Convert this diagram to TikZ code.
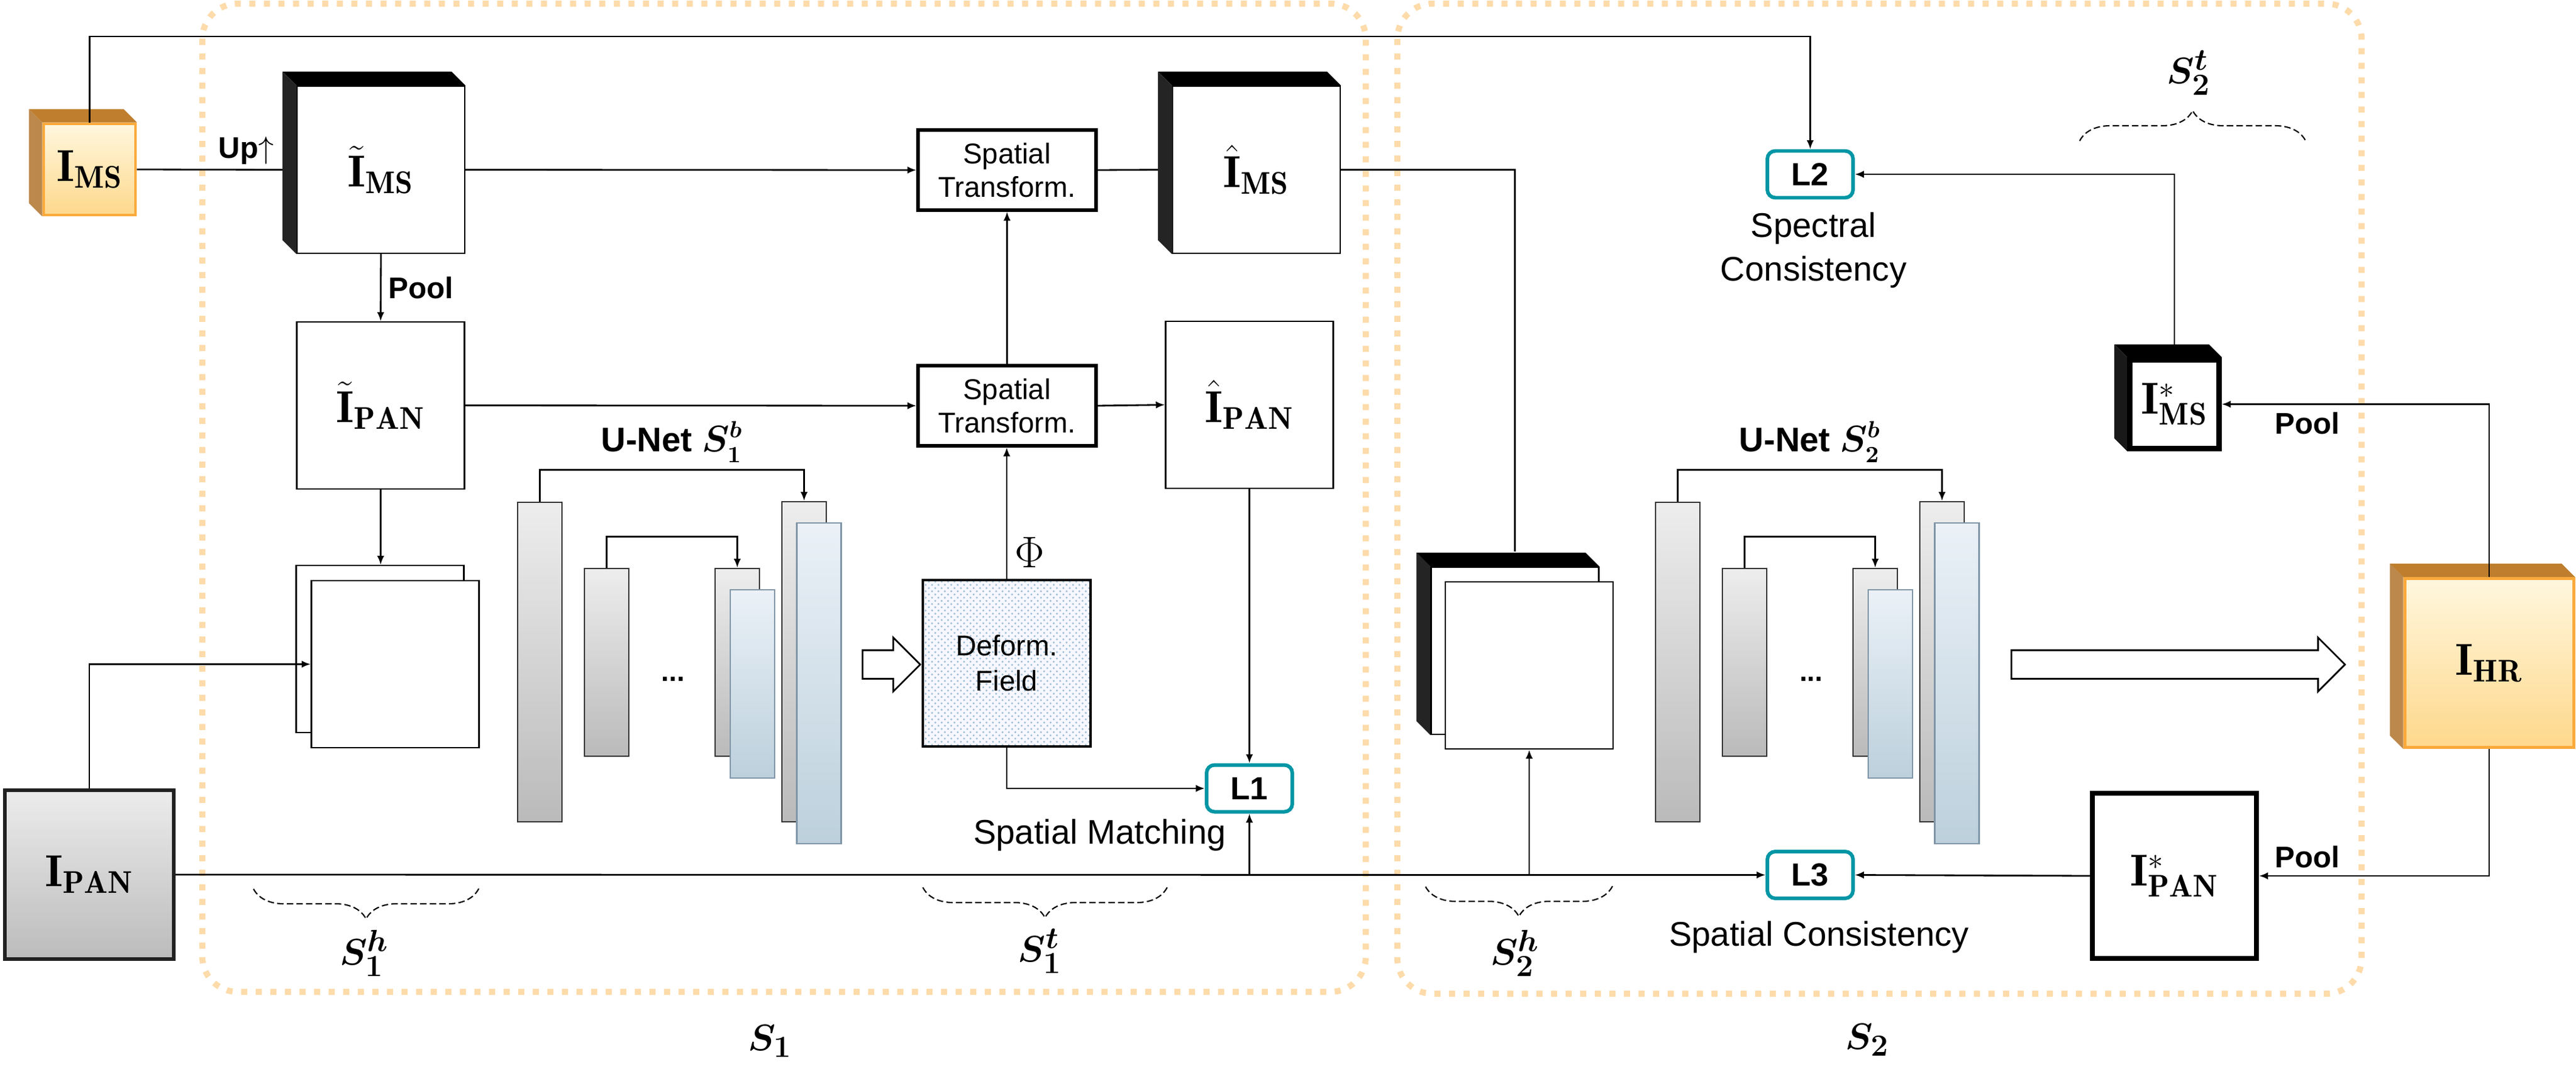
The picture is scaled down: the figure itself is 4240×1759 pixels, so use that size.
\documentclass[tikz,border=0pt]{standalone}
\usepackage{fontspec}
\usepackage{tikz}
\usetikzlibrary{arrows.meta,positioning,shapes.arrows,patterns,decorations.pathreplacing,backgrounds}
\newfontfamily\arialfont{Liberation Sans}

\definecolor{stageorange}{RGB}{253,219,170}
\definecolor{lossteal}{RGB}{0,150,165}
\definecolor{cubeborder}{RGB}{251,170,60}
\definecolor{cubetopface}{RGB}{190,126,45}
\definecolor{cubesideface}{RGB}{188,136,75}
\definecolor{cubelight}{RGB}{255,247,222}
\definecolor{cubedark}{RGB}{254,216,140}
\definecolor{barblueA}{RGB}{235,241,247}
\definecolor{barblueB}{RGB}{188,208,220}
\definecolor{barblueline}{RGB}{127,149,167}
\definecolor{fieldblue}{RGB}{160,190,214}

% top and left faces of a box seen in depth
\newcommand{\cubefaces}[4]{%
  \fill[#3] (#1.north west) -- ++(-#2,-#2) -- ([shift={(-#2,-#2)}]#1.north east) -- (#1.north east) -- cycle;
  \fill[#4] (#1.north west) -- ++(-#2,-#2) -- ([shift={(-#2,-#2)}]#1.south west) -- (#1.south west) -- cycle;
}

\begin{document}
\begin{tikzpicture}[x=0.1mm, y=-0.1mm,
    link/.style={line width=0.8pt},
    arr/.style={link, -{Latex[length=4.2pt,width=3.4pt]}},
    imgbox/.style={draw, line width=0.7pt, fill=white, inner sep=0pt,
                   minimum width=27.6mm, minimum height=27.5mm,
                   font=\fontsize{21}{25}\selectfont},
    orangecube/.style={draw=cubeborder, line width=1.4pt, top color=cubelight,
                   bottom color=cubedark, inner sep=0pt, font=\fontsize{21}{25}\selectfont},
    pangray/.style={draw=black!87, line width=1.6pt, top color=gray!15,
                   bottom color=gray!53, inner sep=0pt, font=\fontsize{21}{25}\selectfont},
    stbox/.style={draw, line width=1.5pt, fill=white, minimum width=29.3mm,
                   minimum height=13.2mm, align=center,
                   font=\arialfont\fontsize{13.4}{15.6}\selectfont},
    fieldbox/.style={draw, line width=1pt, preaction={fill=blue!3},
                   pattern=crosshatch dots, pattern color=fieldblue,
                   minimum width=27.6mm, minimum height=27.4mm, align=center,
                   font=\arialfont\fontsize{13.4}{16.5}\selectfont},
    lossbox/.style={draw=lossteal, line width=1.7pt, fill=white, rounded corners=1.3mm,
                   minimum width=14.1mm, minimum height=7.7mm,
                   font=\arialfont\bfseries\fontsize{15}{18}\selectfont},
    encbar/.style={draw=black!80, line width=0.8pt, top color=gray!14,
                   bottom color=gray!54, inner sep=0pt, minimum width=7.3mm},
    decbar/.style={draw=barblueline, line width=0.8pt, top color=barblueA,
                   bottom color=barblueB, inner sep=0pt, minimum width=7.3mm},
    hollow/.style={single arrow, draw, line width=0.8pt, fill=white, inner sep=2.2mm,
                   single arrow head extend=2.1mm, minimum width=0pt},
    stagebox/.style={draw=stageorange, line width=1mm, dash pattern=on 1mm off 1.4mm,
                   rounded corners=5.8mm},
    brc/.style={decorate, decoration={brace, amplitude=5mm}, line width=0.6pt,
                   dash pattern=on 3pt off 1.5pt},
    txt/.style={font=\arialfont\fontsize{16}{20.5}\selectfont},
    boldtxt/.style={font=\arialfont\bfseries\fontsize{14}{17}\selectfont},
    slabel/.style={font=\boldmath\fontsize{19}{23}\selectfont}]

\useasboundingbox (0,0) rectangle (4240,1759);

% the two stages
\draw[stagebox] (333,6) rectangle (2248,1633);
\draw[stagebox] (2300,6) rectangle (3887,1636);

% inputs
\node[orangecube, minimum width=15.1mm, minimum height=15mm] (ims) at (147.5,279) {$\mathbf{I}_{\mathbf{MS}}$};
\node[pangray, minimum width=27.8mm, minimum height=27.8mm] (pan) at (147,1440) {$\mathbf{I}_{\mathbf{PAN}}$};

% stage 1
\node[imgbox] (imstilde) at (627,279.5) {$\tilde{\mathbf{I}}_{\mathbf{MS}}$};
\node[imgbox] (pantilde) at (626.5,667.5) {$\tilde{\mathbf{I}}_{\mathbf{PAN}}$};
\node[imgbox] (s1back) at (625.5,1068.5) {};
\node[imgbox] (s1front) at (650.5,1093.5) {};
\node[stbox] (sttop) at (1657.5,280) {Spatial\\Transform.};
\node[stbox] (stbot) at (1657.5,668) {Spatial\\Transform.};
\node[imgbox] (imshat) at (2068,279.5) {$\hat{\mathbf{I}}_{\mathbf{MS}}$};
\node[imgbox] (panhat) at (2056.5,666.5) {$\hat{\mathbf{I}}_{\mathbf{PAN}}$};
\node[fieldbox] (deform) at (1657,1092) {Deform.\\Field};
\node[lossbox] (l1) at (2056.5,1298) {L1};
\node[hollow, minimum height=9.5mm] (flow1) at (1455.5,1094) {};

% stage 2
\node[imgbox] (s2cube) at (2493.5,1071.5) {};
\node[imgbox] (s2front) at (2517,1095.5) {};
\node[lossbox] (l2) at (2979.5,287) {L2};
\node[lossbox] (l3) at (2979.5,1440.5) {L3};
\node[imgbox, line width=2.5pt, minimum width=14.7mm, minimum height=14.6mm] (imsstar) at (3579,665.5) {$\mathbf{I}^{*}_{\mathbf{MS}}$};
\node[imgbox, line width=2.4pt, minimum width=27mm, minimum height=27.2mm] (panstar) at (3579,1442) {$\mathbf{I}^{*}_{\mathbf{PAN}}$};
\node[orangecube, minimum width=27.8mm, minimum height=27.8mm] (ihr) at (4097,1091.5) {$\mathbf{I}_{\mathbf{HR}}$};
\node[hollow, minimum height=54.9mm] (flow2) at (3573.5,1094) {};

\begin{scope}[on background layer]
  \cubefaces{ims}{22}{cubetopface}{cubesideface}
  \cubefaces{ihr}{22}{cubetopface}{cubesideface}
  \cubefaces{imstilde}{23}{black}{black!86}
  \cubefaces{imshat}{23}{black}{black!86}
  \cubefaces{s2cube}{23}{black}{black!86}
  \cubefaces{imsstar}{21}{black}{black!90}
\end{scope}

% the two U-Nets
\foreach \k/\dx in {1/0,2/1873}{
  \node[encbar, minimum height=52.6mm] (u\k-e1) at (888.5+\dx,1090) {};
  \node[encbar, minimum height=30.9mm] (u\k-e2) at (998.5+\dx,1090.5) {};
  \node[encbar, minimum height=30.9mm] (u\k-d2) at (1213.5+\dx,1090.5) {};
  \node[decbar, minimum height=31mm] (u\k-o2) at (1238.5+\dx,1126) {};
  \node[encbar, minimum height=52.7mm] (u\k-d1) at (1323.5+\dx,1089.5) {};
  \node[decbar, minimum height=52.8mm] (u\k-o1) at (1348+\dx,1125) {};
  \node[font=\arialfont\bfseries\fontsize{13}{15}\selectfont] (u\k-dots) at (1108+\dx,1118) {...};
  \node[font=\fontsize{16}{19}\selectfont] (u\k-name) at (1106+\dx,728) {\arialfont\bfseries U-Net {\boldmath$S_{\k}^{b}$}};
  \draw[arr] (u\k-e1.north) -- ++(0,-52) -| (u\k-d1.north);
  \draw[arr] (u\k-e2.north) -- ++(0,-51) -| (u\k-d2.north);
}

% connectors
\draw[arr] (ims.north) -- (ims.north |- 0,60) -| (l2.north);
\draw[link] (ims.east) -- node[pos=0.75, above, inner sep=2pt, boldtxt] {Up$\uparrow$} ([xshift=-2.3mm]imstilde.west);
\draw[arr] (imstilde.south) -- node[right, boldtxt] {Pool} (pantilde.north);
\draw[arr] (imstilde.east) -- (sttop.west);
\draw[arr] (pantilde.east) -- (stbot.west);
\draw[link] (sttop.east) -- ([xshift=-2.3mm]imshat.west);
\draw[arr] (stbot.east) -- (panhat.west);
\draw[arr] (stbot.north) -- (sttop.south);
\draw[arr] (deform.north) -- node[pos=0.2, right, font=\fontsize{20}{24}\selectfont] {$\Phi$} (deform.north |- stbot.south);
\draw[arr] (deform.south) |- (l1.west);
\draw[arr] (panhat.south) -- (l1.north);
\draw[arr] (pantilde.south) -- (pantilde.south |- s1back.north);
\draw[arr] (pan.north) |- (s1front.west);
\draw[arr] (pan.east) -- (l3.west);
\draw[arr] (l1.south |- pan.east) -- (l1.south);
\draw[arr] (s2front.south |- pan.east) -- (s2front.south);
\draw[link] (imshat.east) -| ([yshift=2.5mm]s2cube.north);
\draw[arr] (imsstar.north) |- (l2.east);
\draw[arr] (ihr.north) |- node[pos=0.84, below, boldtxt] {Pool} (imsstar.east);
\draw[arr] (ihr.south) |- node[pos=0.895, above, boldtxt] {Pool} (panstar.east);
\draw[arr] (panstar.west) -- (l3.east);

% captions
\node[txt] (matchtxt) at (1810,1375) {Spatial Matching};
\node[txt, align=center] (spectxt) at (2985,412) {Spectral\\Consistency};
\node[txt] (spattxt) at (2994,1543) {Spatial Consistency};

% braces
\draw[brc] (788,1463) -- (417,1463);
\draw[brc] (1921,1461) -- (1519,1461);
\draw[brc] (2654,1459) -- (2346,1459);
\draw[brc] (3423,232) -- (3795,232);
\node[slabel] (s1h) at (600,1569) {$S_1^h$};
\node[slabel] (s1t) at (1712,1566) {$S_1^t$};
\node[slabel] (s2h) at (2494,1569) {$S_2^h$};
\node[slabel] (s2t) at (3603,120) {$S_2^t$};
\node[slabel] (s1name) at (1268,1714) {$S_1$};
\node[slabel] (s2name) at (3074,1712) {$S_2$};

\end{tikzpicture}
\end{document}
